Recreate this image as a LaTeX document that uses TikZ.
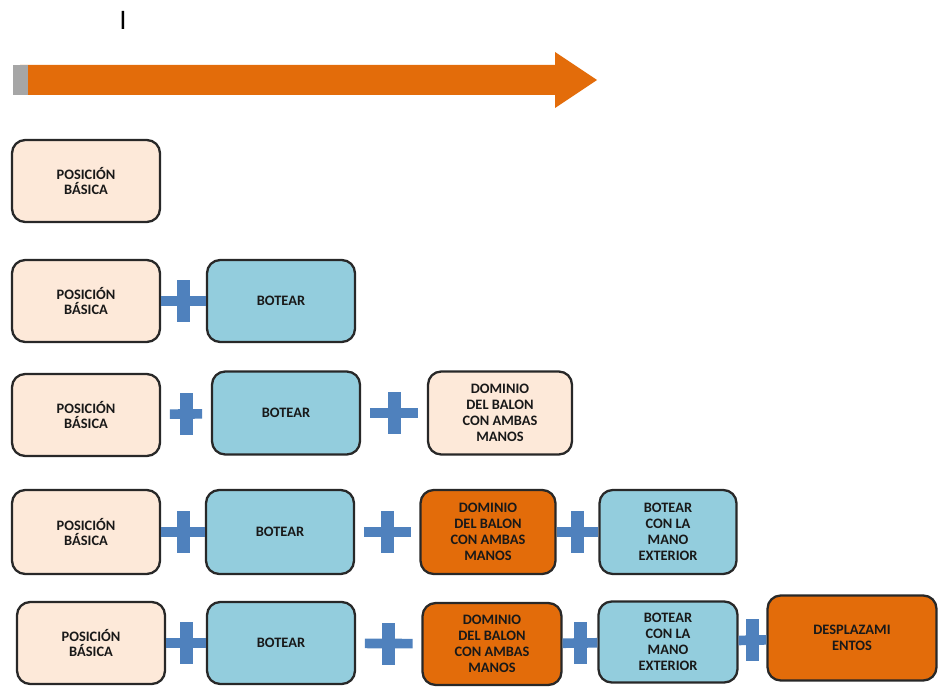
\documentclass[tikz,border=0pt]{standalone}
\usepackage{fontspec}
\newfontfamily\boxfont{Carlito}
\newfontfamily\markfont{Liberation Sans}
\usepackage{tikz}
\usetikzlibrary{positioning}
\definecolor{stepcream}{RGB}{253,233,217}
\definecolor{stepblue}{RGB}{147,205,221}
\definecolor{steporange}{RGB}{227,108,10}
\definecolor{plusblue}{RGB}{79,129,189}
\definecolor{edgegray}{RGB}{40,40,40}

\begin{document}
\begin{tikzpicture}[x=0.02cm, y=-0.02cm,
    cbox/.style={draw=edgegray, line width=1.3pt, rounded corners=7.5pt, align=center,
        minimum width=2.96cm, minimum height=1.64cm, inner sep=1pt,
        font=\boxfont\bfseries\fontsize{8.2}{9}\selectfont, text=black!90},
    cream/.style={cbox, fill=stepcream},
    sky/.style={cbox, fill=stepblue},
    hot/.style={cbox, fill=steporange},
    plusbar/.style={plusblue, line width=5.5pt},
    plussign/.style={fill=plusblue, minimum width=0.26cm, minimum height=0.84cm, inner sep=0pt},
    gap/.style={shorten <=5pt, shorten >=5pt}
]
\useasboundingbox (0,0) rectangle (939,686);

% === timeline arrow ===
\node[font=\markfont\fontsize{15}{15}\selectfont] (tick) at (123,20) {I};
\fill[steporange] (20,65) -- (555,65) -- (555,52) -- (597,80) -- (555,108) -- (555,95) -- (20,95) -- cycle;
\fill[gray!70] (13,65) rectangle (28,95);

% Row 1
\node[cream] (p1) at (86,181) {POSICIÓN\\BÁSICA};

% Row 2
\node[cream] (p2) at (86,301) {POSICIÓN\\BÁSICA};
\node[sky] (b2) at (281,301) {BOTEAR};
\draw[plusbar] (p2) -- (b2) node[midway, plussign] {};

% Row 3
\node[cream] (p3) at (86,415) {POSICIÓN\\BÁSICA};
\node[sky, minimum height=1.66cm] (b3) at (286,413) {BOTEAR};
\node[cream, minimum width=2.88cm, minimum height=1.66cm] (d3) at (500,413) {DOMINIO\\DEL BALON\\CON AMBAS\\MANOS};
\draw[plusbar, gap] (p3) -- (b3) node[midway, plussign] {};
\draw[plusbar, gap] (b3) -- (d3) node[midway, plussign] {};

% Row 4
\node[cream, minimum height=1.68cm] (p4) at (86,532) {POSICIÓN\\BÁSICA};
\node[sky, minimum height=1.68cm] (b4) at (280,532) {BOTEAR};
\node[hot, minimum width=2.7cm, minimum height=1.68cm] (d4) at (488,532) {DOMINIO\\DEL BALON\\CON AMBAS\\MANOS};
\node[sky, minimum width=2.74cm, minimum height=1.68cm] (e4) at (668,532) {BOTEAR\\CON LA\\MANO\\EXTERIOR};
\draw[plusbar] (p4) -- (b4) node[midway, plussign] {};
\draw[plusbar, gap] (b4) -- (d4) node[midway, plussign] {};
\draw[plusbar] (d4) -- (e4) node[midway, plussign] {};

% Row 5
\node[cream] (p5) at (91,643) {POSICIÓN\\BÁSICA};
\node[sky] (b5) at (281,643) {BOTEAR};
\node[hot, minimum width=2.78cm] (d5) at (492,644) {DOMINIO\\DEL BALON\\CON AMBAS\\MANOS};
\node[sky, minimum width=2.78cm, minimum height=1.62cm] (e5) at (668,642) {BOTEAR\\CON LA\\MANO\\EXTERIOR};
\node[hot, minimum width=3.38cm, minimum height=1.7cm] (f5) at (852,638) {DESPLAZAMI\\ENTOS};
\draw[plusbar] (p5) -- (b5) node[midway, plussign] {};
\draw[plusbar, gap] (b5) -- (d5) node[midway, plussign] {};
\draw[plusbar] (d5) -- (e5) node[midway, plussign] {};
\draw[plusbar] (e5) -- (f5) node[midway, plussign] {};

\end{tikzpicture}
\end{document}
